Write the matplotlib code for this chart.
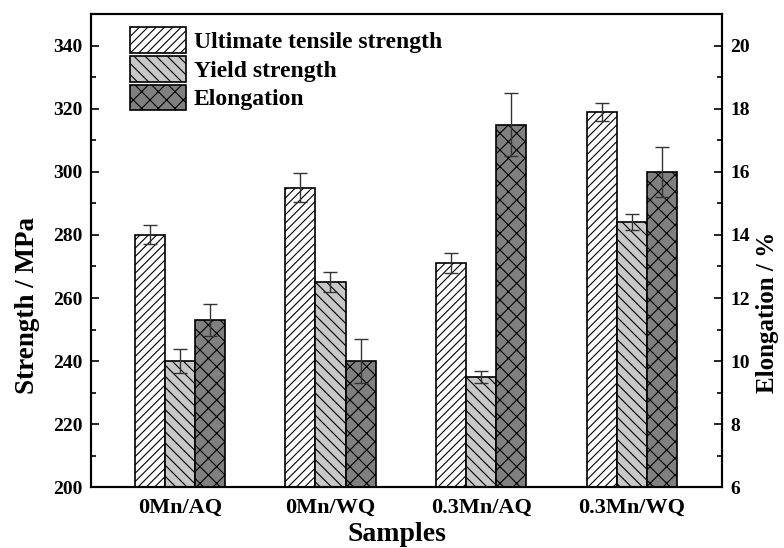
import numpy as np
import matplotlib.pyplot as plt
from matplotlib.ticker import MultipleLocator

plt.rcParams['font.family'] = ['Liberation Serif', 'DejaVu Serif']
plt.rcParams['font.weight'] = 'bold'
plt.rcParams['hatch.linewidth'] = 0.8

samples = ["0Mn/AQ", "0Mn/WQ", "0.3Mn/AQ", "0.3Mn/WQ"]
uts = [280, 295, 271, 319]
uts_err = [3, 4.5, 3.2, 3]
ys = [240, 265, 235, 284]
ys_err = [3.7, 3.2, 2, 2.5]
elong = [11.3, 10.0, 17.5, 16.0]
elong_err = [0.5, 0.7, 1.0, 0.8]

x = np.arange(1, len(samples) + 1)
w = 0.2
ekw = dict(ecolor='#333333', elinewidth=1.0, capsize=5, capthick=1.0)

fig, ax = plt.subplots(figsize=(7.84, 5.48), dpi=100)
fig.subplots_adjust(left=0.116, right=0.921, top=0.974, bottom=0.111)
ax2 = ax.twinx()

b1 = ax.bar(x - w, uts, w, yerr=uts_err, color='white', edgecolor='black',
            hatch='////', linewidth=1.2, error_kw=ekw)
b2 = ax.bar(x, ys, w, yerr=ys_err, color='#c8c8c8', edgecolor='black',
            hatch='\\\\\\', linewidth=1.2, error_kw=ekw)
b3 = ax2.bar(x + w, elong, w, yerr=elong_err, color='#808080', edgecolor='black',
             hatch='xx', linewidth=1.2, error_kw=ekw)

ax.set_xlim(0.41, 4.6)
ax.set_ylim(200, 350)
ax2.set_ylim(6, 21)
ax.set_xticks(x)
ax.set_xticklabels(samples, fontsize=16, fontweight='bold')
ax.tick_params(axis='x', length=0, pad=8)

ax.yaxis.set_major_locator(MultipleLocator(20))
ax.yaxis.set_minor_locator(MultipleLocator(10))
ax2.yaxis.set_major_locator(MultipleLocator(2))
ax2.yaxis.set_minor_locator(MultipleLocator(1))
for a in (ax, ax2):
    a.tick_params(axis='y', which='major', direction='in', length=6, width=1.2, labelsize=14, pad=6)
    a.tick_params(axis='y', which='minor', direction='in', length=3.5, width=1.2)
    for s in a.spines.values():
        s.set_linewidth(1.5)
for lab in ax.get_yticklabels() + ax2.get_yticklabels():
    lab.set_fontweight('bold')

ax.set_ylabel('Strength / MPa', fontsize=19.5, fontweight='bold')
ax.yaxis.set_label_coords(-0.081, 0.385)
ax2.set_ylabel('Elongation / %', fontsize=18, fontweight='bold')
ax2.yaxis.set_label_coords(1.054, 0.37)
ax.set_xlabel('Samples', fontsize=20, fontweight='bold')
ax.xaxis.set_label_coords(0.485, -0.074)

ax.legend([b1, b2, b3], ['Ultimate tensile strength', 'Yield strength', 'Elongation'],
          loc='upper left', bbox_to_anchor=(0.062, 0.972), frameon=False,
          prop={'size': 17, 'weight': 'bold'}, handlelength=2.35, handleheight=1.3,
          handletextpad=0.35, labelspacing=0.12, borderaxespad=0, borderpad=0)

plt.savefig('out.png', dpi=100)
